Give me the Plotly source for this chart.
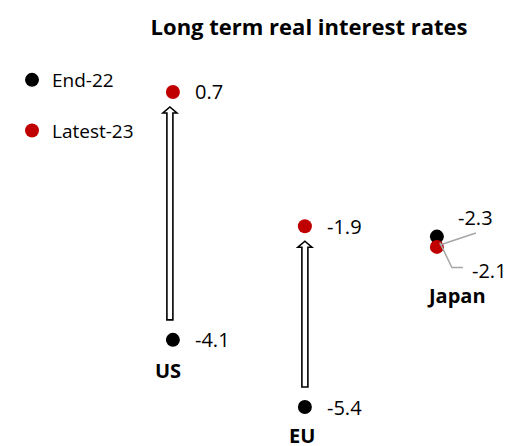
import plotly.graph_objects as go

# Long-term real interest rates, end of 2022 vs latest 2023 reading (%)
categories = ["US", "EU", "Japan"]
end_22 = [-4.1, -5.4, -2.1]
latest_23 = [0.7, -1.9, -2.3]
series_names = ["End-22", "Latest-23"]

BLACK = "#000000"
RED = "#C00000"
GREY = "#A6A6A6"
FONT = "Open Sans"

W, H = 510, 446
MARGIN_T, MARGIN_B = 50, 0
Y_RANGE = [-6.155, 1.513]
X_RANGE = [-1.31, 2.554]
plot_h = H - MARGIN_T - MARGIN_B
px_per_unit = plot_h / (Y_RANGE[1] - Y_RANGE[0])

xs = list(range(len(categories)))

fig = go.Figure()
fig.add_trace(go.Scatter(
    x=xs, y=end_22, mode="markers", name=series_names[0],
    marker=dict(color=BLACK, size=14), legendgroup="a", hoverinfo="skip"))
fig.add_trace(go.Scatter(
    x=xs, y=latest_23, mode="markers", name=series_names[1],
    marker=dict(color=RED, size=14), legendgroup="b", hoverinfo="skip"))

annotations = []
shapes = []

# hollow up-arrows showing the move for US and EU
head_w, shaft_w, head_h = 7, 3, 6
tip_gap, tail_gap = 15 / px_per_unit, 20 / px_per_unit
arrow_dx = [-3, 0]
for i in (0, 1):
    y_tail = end_22[i] + tail_gap
    y_tip = latest_23[i] - tip_gap
    y_base = y_tip - head_h / px_per_unit
    d = arrow_dx[i]
    path = (f"M {d - shaft_w},{y_tail} L {d - shaft_w},{y_base} L {d - head_w},{y_base} "
            f"L {d},{y_tip} L {d + head_w},{y_base} L {d + shaft_w},{y_base} "
            f"L {d + shaft_w},{y_tail} Z")
    shapes.append(dict(type="path", xsizemode="pixel", xanchor=xs[i], xref="x",
                       yref="y", path=path, fillcolor="white",
                       line=dict(color=BLACK, width=1.6), layer="below"))
    for v in (end_22[i], latest_23[i]):
        annotations.append(dict(x=xs[i], y=v, text=f"{v:.1f}", showarrow=False,
                                xanchor="left", xshift=20,
                                font=dict(family=FONT, size=20, color=BLACK)))

# Japan: labels pulled aside with leader lines
j = 2
shapes.append(dict(type="path", xsizemode="pixel", ysizemode="pixel",
                   xanchor=xs[j], yanchor=latest_23[j], xref="x", yref="y",
                   path="M 3,2 L 39,14", line=dict(color=GREY, width=1.5)))
shapes.append(dict(type="path", xsizemode="pixel", ysizemode="pixel",
                   xanchor=xs[j], yanchor=end_22[j], xref="x", yref="y",
                   path="M 3,-6 L 15,-31 L 26,-31", line=dict(color=GREY, width=1.5)))
annotations.append(dict(x=xs[j], y=latest_23[j], text=f"{latest_23[j]:.1f}",
                        showarrow=False, xanchor="left", xshift=19, yshift=29,
                        font=dict(family=FONT, size=20, color=BLACK)))
annotations.append(dict(x=xs[j], y=end_22[j], text=f"{end_22[j]:.1f}",
                        showarrow=False, xanchor="left", xshift=33, yshift=-34,
                        font=dict(family=FONT, size=20, color=BLACK)))

# category names under each pair
name_shift = [(-5, -31), (-3, -28), (20, -49)]
for i, c in enumerate(categories):
    low = min(end_22[i], latest_23[i])
    dx, dy = name_shift[i]
    annotations.append(dict(x=xs[i], y=low, text=f"<b>{c}</b>", showarrow=False,
                            xshift=dx, yshift=dy,
                            font=dict(family=FONT, size=20, color=BLACK)))

fig.update_layout(
    width=W, height=H,
    margin=dict(l=0, r=0, t=MARGIN_T, b=MARGIN_B),
    paper_bgcolor="white", plot_bgcolor="white",
    title=dict(text="<b>Long term real interest rates</b>", x=0.606, xref="paper",
               xanchor="center", y=1 - 27 / H, yref="container", yanchor="middle",
               font=dict(family=FONT, size=22, color=BLACK)),
    xaxis=dict(range=X_RANGE, visible=False, fixedrange=True),
    yaxis=dict(range=Y_RANGE, visible=False, fixedrange=True),
    showlegend=True,
    legend=dict(x=12 / W, y=1 - 11 / plot_h, xref="paper",
                yref="paper", xanchor="left", yanchor="top",
                tracegroupgap=23, itemwidth=30, bgcolor="rgba(0,0,0,0)",
                font=dict(family=FONT, size=19, color=BLACK)),
    annotations=annotations,
    shapes=shapes,
    hovermode=False,
)

fig.write_html("out.html")
